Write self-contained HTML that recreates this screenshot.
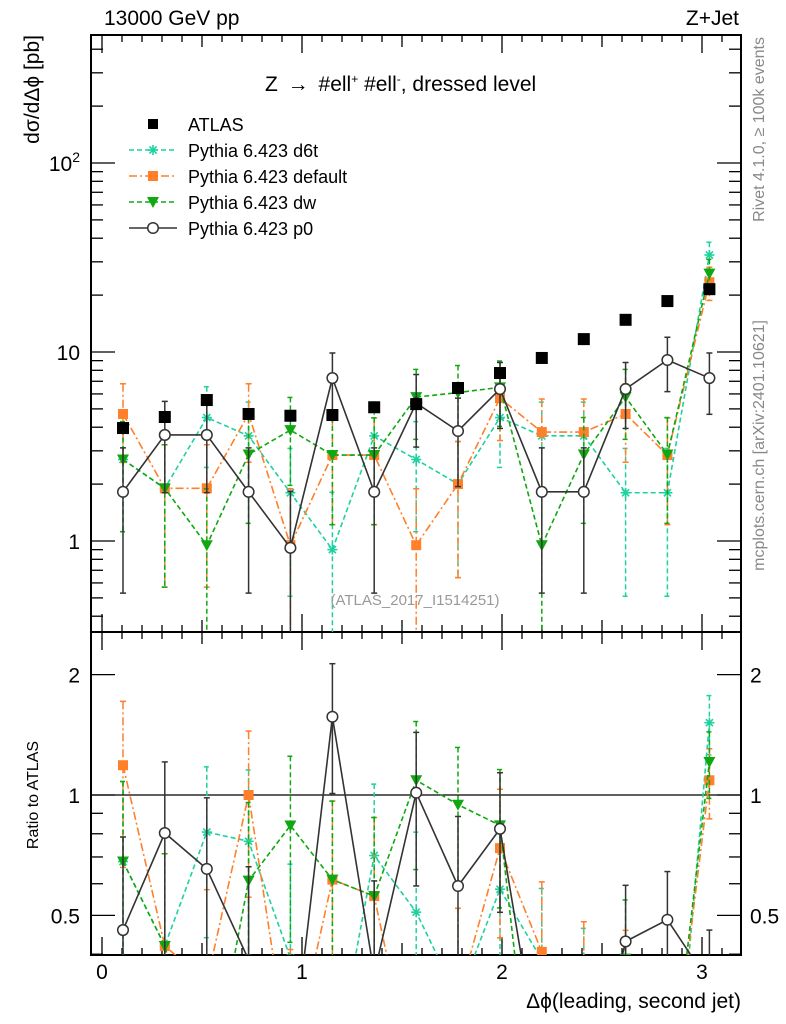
<!DOCTYPE html>
<html><head><meta charset="utf-8"><style>
html,body{margin:0;padding:0;background:#fff;overflow:hidden;}
svg{display:block;font-family:"Liberation Sans",sans-serif;}
</style></head><body>
<svg id="c" width="786" height="1024" viewBox="0 0 786 1024" xmlns="http://www.w3.org/2000/svg"></svg>
<script>
const categories = [0.105,0.314,0.524,0.733,0.942,1.152,1.361,1.571,1.780,1.990,2.199,2.409,2.618,2.827,3.037];
const atlasValues = [3.96,4.53,5.57,4.7,4.6,4.64,5.1,5.3,6.45,7.74,9.3,11.7,14.8,18.6,21.5];
const d6tValues = [2.7,1.9,4.5,3.6,1.8,0.9,3.6,2.7,2.0,4.5,3.6,3.6,1.8,1.8,32.6];
const d6tErr = [1.58,1.33,2.05,1.83,1.29,0.91,1.83,1.58,1.36,2.05,1.83,1.83,1.29,1.29,5.5];
const defValues = [4.7,1.9,1.9,4.7,0.95,2.85,2.85,0.95,2.0,5.7,3.77,3.77,4.7,2.85,23.4];
const defErr = [2.09,1.33,1.33,2.09,0.94,1.63,1.63,0.94,1.36,2.3,1.87,1.87,2.09,1.63,4.66];
const dwValues = [2.7,1.9,0.95,2.87,3.86,2.85,2.85,5.77,6.1,6.5,0.95,2.87,5.77,2.87,26];
const dwErr = [1.58,1.33,0.94,1.63,1.89,1.63,1.63,2.32,2.38,2.46,0.94,1.63,2.32,1.63,4.92];
const p0Values = [1.82,3.64,3.64,1.82,0.92,7.28,1.82,5.37,3.82,6.37,1.82,1.82,6.37,9.07,7.28];
const p0Err = [1.29,1.84,1.84,1.29,0.91,2.6,1.29,2.23,1.88,2.43,1.29,1.29,2.43,2.9,2.6];
const xTicks = [0,1,2,3];
const mainTickLabels = ["1","10","10²"];

const svg = document.getElementById('c');
const NS = "http://www.w3.org/2000/svg";
const L=91, R=741, T=35, MB=632, RB=955;
function X(v){return 102+200*v;}
function Y(v){return 352-189*(Math.log10(v)-1);}
function YR(v){return 795-400*Math.log10(v);}
function el(tag, attrs, parent){const e=document.createElementNS(NS,tag);for(const k in attrs)e.setAttribute(k,attrs[k]);(parent||svg).appendChild(e);return e;}
function txt(s,attrs,parent){const e=el('text',attrs,parent);e.textContent=s;return e;}

const defs=el('defs',{});
const c1=el('clipPath',{id:'cm'},defs);el('rect',{x:L,y:T,width:R-L,height:MB-T},c1);
const c2=el('clipPath',{id:'cr'},defs);el('rect',{x:L,y:MB,width:R-L,height:RB-MB},c2);

const f1=el('rect',{x:L,y:T,width:R-L,height:MB-T,fill:'none',stroke:'#000','stroke-width':2});


const f2=el('rect',{x:L,y:MB,width:R-L,height:RB-MB,fill:'none',stroke:'#000','stroke-width':2});



const xt=el('g',{stroke:'#000','stroke-width':1.3});


for(let i=0;i<=31;i++){const v=i/10;const x=X(v);if(x>R)break;
  const len=(i%10==0)?18:(i%5==0?12:7);
  [T,MB].forEach(y0=>{el('line',{x1:x,y1:y0,x2:x,y2:y0+len},xt);});
  [MB,RB].forEach(y0=>{el('line',{x1:x,y1:y0,x2:x,y2:y0-len},xt);});
}
const yt=el('g',{stroke:'#000','stroke-width':1.3});


for(let d=-1;d<=2;d++){for(let m=1;m<=9;m++){const v=m*Math.pow(10,d);const y=Y(v);if(y<T||y>MB)continue;
  const len=m==1?24:12;
  el('line',{x1:L,y1:y,x2:L+len,y2:y},yt);el('line',{x1:R,y1:y,x2:R-len,y2:y},yt);}}
[0.4,0.5,0.6,0.7,0.8,0.9,1,2].forEach(v=>{const y=YR(v);if(y>RB||y<MB)return;const len=(v==0.5||v==1||v==2)?24:12;
  el('line',{x1:L,y1:y,x2:L+len,y2:y},yt);el('line',{x1:R,y1:y,x2:R-len,y2:y},yt);});
xTicks.forEach(v=>{const t=txt(String(v),{x:X(v),y:979,'font-size':21,'text-anchor':'middle'});
  
  });
[1,10].forEach((v,i)=>{const t=txt(mainTickLabels[i],{x:80,y:Y(v)+8,'font-size':21,'text-anchor':'end'});
  
  });
const t100=el('text',{x:80,y:Y(100)+8,'font-size':21,'text-anchor':'end'});


t100.innerHTML='10<tspan dy="-9" font-size="14">2</tspan>';
[[2,"2"],[1,"1"],[0.5,"0.5"]].forEach(([v,s])=>{
  const a=txt(s,{x:80,y:YR(v)+8,'font-size':21,'text-anchor':'end'});
  
  
  const b=txt(s,{x:750,y:YR(v)+8,'font-size':21,'text-anchor':'start'});
  
  });
const one=el('line',{x1:L,y1:YR(1),x2:R,y2:YR(1),stroke:'#000','stroke-width':1.3});



const series=[
 {name:'d6t',vals:d6tValues,err:d6tErr,color:'#1fd1a0',dash:'5,3',mk:'star'},
 {name:'default',vals:defValues,err:defErr,color:'#ff7f2a',dash:'8,3,2,3',mk:'square'},
 {name:'dw',vals:dwValues,err:dwErr,color:'#10a810',dash:'5,3',mk:'tri'},
 {name:'p0',vals:p0Values,err:p0Err,color:'#333333',dash:'',mk:'circle'}
];
function marker(g,mk,x,y,color){
  if(mk=='square'){el('rect',{x:x-5,y:y-5,width:10,height:10,fill:color},g);}
  else if(mk=='tri'){el('polygon',{points:`${x-6},${y-5} ${x+6},${y-5} ${x},${y+6}`,fill:color},g);}
  else if(mk=='circle'){el('circle',{cx:x,cy:y,r:5.3,fill:'#fff',stroke:color,'stroke-width':1.5},g);}
  else if(mk=='star'){const gg=el('g',{stroke:color,'stroke-width':1.6},g);
    for(let a=0;a<4;a++){const an=a*Math.PI/4;el('line',{x1:x-5*Math.cos(an),y1:y-5*Math.sin(an),x2:x+5*Math.cos(an),y2:y+5*Math.sin(an)},gg);}}
  else if(mk=='bigsquare'){el('rect',{x:x-6,y:y-6,width:12,height:12,fill:color},g);}
}
function drawSeries(s,panel){
  const g=el('g',{'clip-path':panel=='main'?'url(#cm)':'url(#cr)'});
  
  
  const fy=panel=='main'?Y:YR;
  const vals=s.vals.map((v,i)=>panel=='main'?v:v/atlasValues[i]);
  const errs=s.err.map((e,i)=>panel=='main'?e:e/atlasValues[i]);
  const bottom=panel=='main'?MB:RB;
  vals.forEach((v,i)=>{const x=X(categories[i]);const lo=v-errs[i];const hi=v+errs[i];
    const y1=fy(hi);const y2=lo>0?fy(lo):bottom+5;
    const eg=el('g',{stroke:s.color,'stroke-width':1.5,'stroke-dasharray':s.dash},g);
    el('line',{x1:x,y1:y1,x2:x,y2:y2},eg);
    el('line',{x1:x-3,y1:y1,x2:x+3,y2:y1,'stroke-dasharray':''},eg);
    if(lo>0)el('line',{x1:x-3,y1:y2,x2:x+3,y2:y2,'stroke-dasharray':''},eg);});
  const pts=vals.map((v,i)=>X(categories[i])+','+fy(v)).join(' ');
  el('polyline',{points:pts,fill:'none',stroke:s.color,'stroke-width':1.6,'stroke-dasharray':s.dash},g);
  vals.forEach((v,i)=>marker(g,s.mk,X(categories[i]),fy(v),s.color));
}
series.forEach(s=>drawSeries(s,'main'));
series.forEach(s=>drawSeries(s,'ratio'));
const ag=el('g',{'clip-path':'url(#cm)'});


atlasValues.forEach((v,i)=>marker(ag,'bigsquare',X(categories[i]),Y(v),'#000'));

const legend=el('g',{});


const lrows=[{label:'ATLAS',y:124},{label:'Pythia 6.423 d6t',y:150,s:series[0]},{label:'Pythia 6.423 default',y:176,s:series[1]},{label:'Pythia 6.423 dw',y:202,s:series[2]},{label:'Pythia 6.423 p0',y:228,s:series[3]}];
lrows.forEach(r=>{
  const g=el('g',{},legend);
  
  
  if(r.s){el('line',{x1:129,y1:r.y,x2:177,y2:r.y,stroke:r.s.color,'stroke-width':1.5,'stroke-dasharray':r.s.dash},g);marker(g,r.s.mk,153,r.y,r.s.color);}
  else marker(g,'square',153,r.y,'#000');
  txt(r.label,{x:188,y:r.y+7,'font-size':18},g);
});

function T_(s,a,name){const t=txt(s,a);return t;}
T_('13000 GeV pp',{x:104,y:25,'font-size':21},'energy-label');
T_('Z+Jet',{x:739,y:25,'font-size':21,'text-anchor':'end'},'process-label');
const tt=el('text',{x:265,y:91,'font-size':21});


tt.innerHTML='Z <tspan dx="4">→</tspan> <tspan dx="4">#ell</tspan><tspan dy="-8" font-size="12">+</tspan><tspan dy="8"> #ell</tspan><tspan dy="-8" font-size="12">-</tspan><tspan dy="8">, dressed level</tspan>';
T_('(ATLAS_2017_I1514251)',{x:415,y:605,'font-size':15,fill:'#999','text-anchor':'middle'},'analysis-id');
T_('dσ/dΔϕ [pb]',{x:0,y:0,'font-size':21,'text-anchor':'end',transform:'translate(39,35) rotate(-90)'},'y-axis-title');
T_('Ratio to ATLAS',{x:0,y:0,'font-size':16,'text-anchor':'middle',transform:'translate(38,795) rotate(-90)'},'ratio-axis-title');
T_('Δϕ(leading, second jet)',{x:741,y:1008,'font-size':21,'text-anchor':'end'},'x-axis-title');
T_('Rivet 4.1.0, ≥ 100k events',{x:0,y:0,'font-size':16,fill:'#888','text-anchor':'end',transform:'translate(764,37) rotate(-90)'},'rivet-label');
T_('mcplots.cern.ch [arXiv:2401.10621]',{x:0,y:0,'font-size':16,fill:'#888','text-anchor':'end',transform:'translate(764,320) rotate(-90)'},'mcplots-label');
</script>
</body></html>
